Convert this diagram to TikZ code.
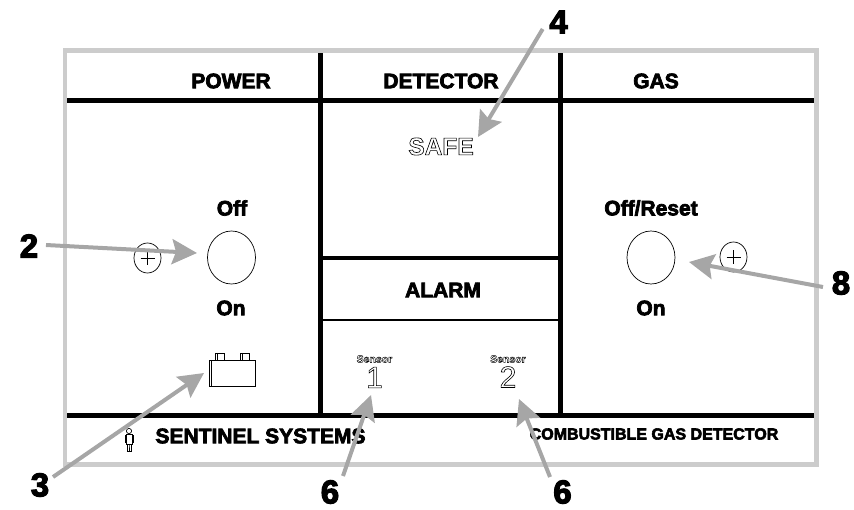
\documentclass[tikz,border=0pt]{standalone}
\usepackage{fontspec}
\usetikzlibrary{arrows.meta}
\setmainfont{Liberation Sans}
\newfontfamily\heavy{Liberation Sans}[BoldFeatures={FakeBold=3.5}]
\newfontfamily\outl{Liberation Sans}[UprightFeatures={FakeBold=2},BoldFeatures={FakeBold=2.5}]
\newfontfamily\outlsmall{Liberation Sans}[BoldFeatures={FakeBold=4}]
\newcommand{\hollow}[1]{\special{pdf:code 1 1 1 rg}#1\special{pdf:code 0 0 0 rg}}
\definecolor{framegray}{HTML}{CCCCCC}
\definecolor{arrowgray}{HTML}{A6A6A6}
\tikzset{
  x=1pt,y=-1pt,
  frameline/.style={draw=framegray,line width=4.6pt},
  rule/.style={draw=black,line width=5pt},
  thinrule/.style={draw=black,line width=2.2pt},
  icon/.style={draw=black,line width=0.7pt},
  title/.style={inner sep=0pt,font=\heavy\bfseries\fontsize{21}{21}\selectfont},
  swlabel/.style={inner sep=0pt,font=\heavy\bfseries\fontsize{21}{21}\selectfont},
  numlabel/.style={inner sep=0pt,font=\heavy\bfseries\fontsize{33}{33}\selectfont},
  hollowtext/.style={inner sep=0pt},
  callout/.style={draw=arrowgray,line width=4pt,-{Stealth[length=25pt,width=25pt,inset=4pt]}},
}
\begin{document}
\begin{tikzpicture}
\useasboundingbox (0,0) rectangle (854,509);
% panel
\draw[frameline] (65,50.5) rectangle (816.5,464.5);
\draw[rule] (67,100) -- (814,100);
\draw[rule] (67,415) -- (814,415);
\draw[rule] (320.5,53) -- (320.5,415);
\draw[rule] (560.5,53) -- (560.5,415);
\draw[draw=black,line width=4pt] (320.5,258) -- (560.5,258);
\draw[thinrule] (320.5,320) -- (560.5,320);
% titles
\node[title] (power) at (231,81) {POWER};
\node[title] (detector) at (441,81) {DETECTOR};
\node[title] (gas) at (656,81) {GAS};
\node[title] (alarm) at (443,290) {ALARM};
\node[title] (sentinel) at (260.5,436) {SENTINEL SYSTEMS};
\node[inner sep=0pt,font=\heavy\bfseries\fontsize{16}{17}\selectfont] (combustible) at (654,434) {COMBUSTIBLE GAS DETECTOR};
% outlined texts
\node[hollowtext,font=\outl\bfseries\fontsize{24.5}{25}\selectfont] (safe) at (441,146.5) {\hollow{SAFE}};
\node[hollowtext,font=\outlsmall\bfseries\fontsize{10.5}{11}\selectfont] (sensorA) at (374.5,359) {\hollow{Sensor}};
\node[hollowtext,font=\outlsmall\bfseries\fontsize{10.5}{11}\selectfont] (sensorB) at (508,359) {\hollow{Sensor}};
\node[hollowtext,font=\outl\fontsize{30}{31}\selectfont] (one) at (374.5,377.5) {\hollow{1}};
\node[hollowtext,font=\outl\fontsize{30}{31}\selectfont] (two) at (508,377) {\hollow{2}};
% power switch
\node[swlabel] (off) at (232,208) {Off};
\node[swlabel] (onL) at (231,308) {On};
\draw[icon] (231.5,257.5) ellipse [x radius=24,y radius=26.5];
\coordinate (smallL) at (147.5,258);
\draw[icon] (smallL) ellipse [x radius=13.5,y radius=15];
\draw[icon] (140.5,258) -- (154.5,258) (147.5,251) -- (147.5,265);
% gas switch
\node[swlabel] (offreset) at (651,208) {Off/Reset};
\node[swlabel] (onR) at (651,308) {On};
\draw[icon] (651,257.5) ellipse [x radius=24,y radius=26.5];
\coordinate (smallR) at (733.5,257);
\draw[icon] (smallR) ellipse [x radius=13.5,y radius=15];
\draw[icon] (726.5,257) -- (740.5,257) (733.5,250) -- (733.5,264);
% battery
\draw[icon] (209,360.5) rectangle (255,386);
\draw[icon] (211,360.5) -- (211,386);
\draw[icon] (215,360.5) -- (215,353.5) -- (224,353.5) -- (224,360.5);
\draw[icon] (240,360.5) -- (240,353.5) -- (249,353.5) -- (249,360.5);
\draw[icon] (217,360.5) -- (217,353.5);
\draw[icon] (242,360.5) -- (242,353.5);
% figure
\draw[icon] (129,431) circle [radius=2.6];
\draw[icon,line width=1pt] (126,434) rectangle (132,444);
\draw[icon,line width=1pt] (127,444) -- (127,451.5) -- (129,451.5) -- (129,444) -- (129,451.5) -- (131,451.5) -- (131,444);
\draw[icon,line width=1pt] (125,435) -- (125,443) (133,435) -- (133,443);
% number labels
\node[numlabel] (n4) at (558.5,22) {4};
\node[numlabel] (n2) at (29,246) {2};
\node[numlabel] (n3) at (40,485) {3};
\node[numlabel] (n6a) at (330,492) {6};
\node[numlabel] (n6b) at (562.5,492) {6};
\node[numlabel] (n8) at (841,283) {8};
% callouts
\coordinate (s4) at (542.7,29);  \coordinate (t4) at (478,137);
\coordinate (s2) at (46,245);    \coordinate (t2) at (197,253);
\coordinate (s3) at (53,477);    \coordinate (t3) at (204,373);
\coordinate (s6a) at (343,476);  \coordinate (t6a) at (371,395);
\coordinate (s6b) at (550,477);  \coordinate (t6b) at (519,399);
\coordinate (s8) at (823,287);   \coordinate (t8) at (689,262);
\draw[callout] (s4) -- (t4);
\draw[callout] (s2) -- (t2);
\draw[callout] (s3) -- (t3);
\draw[callout] (s6a) -- (t6a);
\draw[callout] (s6b) -- (t6b);
\draw[callout] (s8) -- (t8);
\end{tikzpicture}
\end{document}
